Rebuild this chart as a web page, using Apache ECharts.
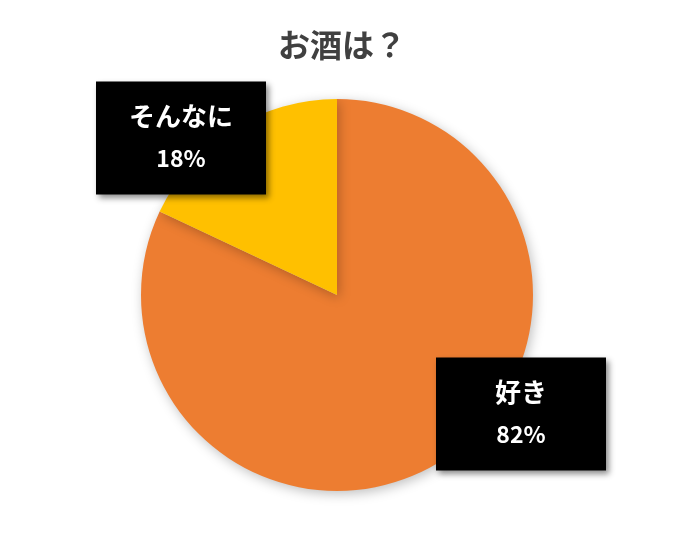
<!DOCTYPE html>
<html><head><meta charset="utf-8">
<script src="https://cdn.jsdelivr.net/npm/echarts@6/dist/echarts.min.js"></script>
<style>html,body{margin:0;padding:0;background:#fff}#c{width:684px;height:542px}</style>
</head><body><div id="c"></div>
<script>
const titleText = 'お酒は？';
const categories = ['好き', 'そんなに'];
const values = [82, 18];
const colors = ['#ED7D31', '#FFC000'];
const labelPos = [[521, 414], [181, 138]];

const chart = echarts.init(document.getElementById('c'));
const FONT = '"Noto Sans CJK JP", "Noto Sans", sans-serif';
chart.setOption({
  backgroundColor: '#fff',
  title: {
    text: titleText, left: 'center', top: 24,
    textStyle: {fontFamily: FONT, fontSize: 32, fontWeight: 'bold', color: '#404040'}
  },
  series: [{
    type: 'pie',
    center: [337, 295],
    radius: 196,
    startAngle: 90,
    clockwise: true,
    animation: false,
    itemStyle: {shadowBlur: 12, shadowColor: 'rgba(0,0,0,0.25)', shadowOffsetX: 2, shadowOffsetY: 3},
    data: categories.map((c, i) => ({name: c, value: values[i], itemStyle: {color: colors[i]}})),
    label: {
      show: true,
      position: 'outside',
      formatter: p => '{a|' + p.name + '}\n{b|' + Math.round(p.percent) + '%}',
      backgroundColor: '#000',
      width: 140,
      padding: [14, 15, 15, 15],
      align: 'center',
      verticalAlign: 'middle',
      shadowColor: 'rgba(0,0,0,0.45)',
      shadowBlur: 6,
      shadowOffsetX: 3,
      shadowOffsetY: 3,
      rich: {
        a: {fontFamily: FONT, fontSize: 26, fontWeight: 'bold', color: '#fff', lineHeight: 42, align: 'center'},
        b: {fontFamily: FONT, fontSize: 23, fontWeight: 'bold', color: '#fff', lineHeight: 42, align: 'center'}
      }
    },
    labelLine: {show: false},
    labelLayout: function (params) {
      const p = labelPos[params.dataIndex];
      return {x: p[0], y: p[1], align: 'center', verticalAlign: 'middle'};
    }
  }]
});
</script></body></html>
